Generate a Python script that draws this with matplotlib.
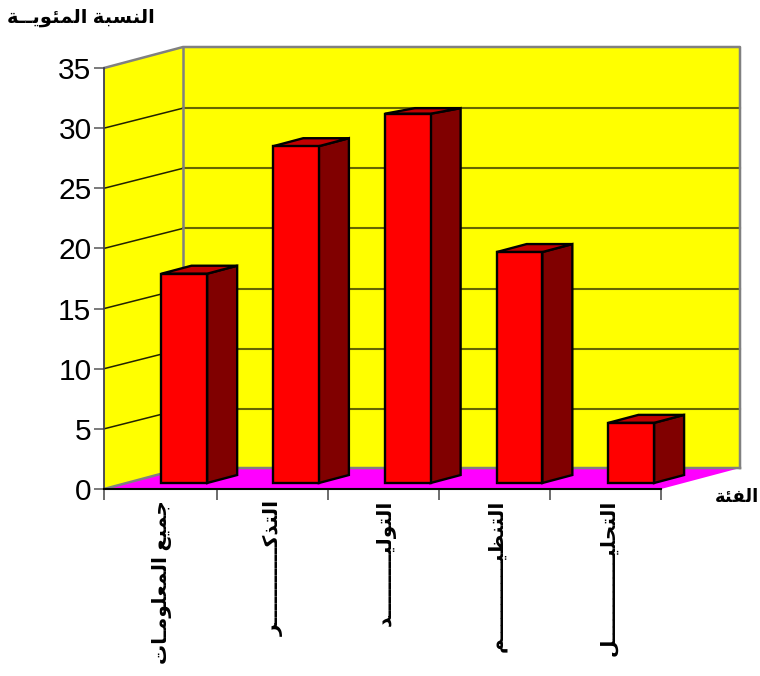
import matplotlib
matplotlib.use('Agg')
import matplotlib.pyplot as plt
from matplotlib.transforms import ScaledTranslation

KASHIDA = 'ـ'

# data
categories = ['جميع المعلومـات', 'التذك' + KASHIDA * 11 + 'ر', 'التولي' + KASHIDA * 9 + 'د',
              'التنظي' + KASHIDA * 11 + 'م', 'التحلي' + KASHIDA * 12 + 'ل']
values = [17.4, 28, 30.7, 19.2, 5]
y_ticks = [0, 5, 10, 15, 20, 25, 30, 35]
x_tick_pos = [0, 1.01, 2.01, 3.01, 4.0, 5]
y_title = 'النسبة المئويــة'
x_title = 'الفئة'

# presentation forms: isolated, final, initial, medial
forms = {
    'ا': (0xFE8D, 0xFE8E), 'ة': (0xFE93, 0xFE94), 'د': (0xFEA9, 0xFEAA),
    'ذ': (0xFEAB, 0xFEAC), 'ر': (0xFEAD, 0xFEAE), 'و': (0xFEED, 0xFEEE),
    'ب': (0xFE8F, 0xFE90, 0xFE91, 0xFE92), 'ت': (0xFE95, 0xFE96, 0xFE97, 0xFE98),
    'ج': (0xFE9D, 0xFE9E, 0xFE9F, 0xFEA0), 'ح': (0xFEA1, 0xFEA2, 0xFEA3, 0xFEA4),
    'س': (0xFEB1, 0xFEB2, 0xFEB3, 0xFEB4), 'ظ': (0xFEC5, 0xFEC6, 0xFEC7, 0xFEC8),
    'ع': (0xFEC9, 0xFECA, 0xFECB, 0xFECC), 'ف': (0xFED1, 0xFED2, 0xFED3, 0xFED4),
    'ك': (0xFED9, 0xFEDA, 0xFEDB, 0xFEDC), 'ل': (0xFEDD, 0xFEDE, 0xFEDF, 0xFEE0),
    'م': (0xFEE1, 0xFEE2, 0xFEE3, 0xFEE4), 'ن': (0xFEE5, 0xFEE6, 0xFEE7, 0xFEE8),
    'ي': (0xFEF1, 0xFEF2, 0xFEF3, 0xFEF4), 'ئ': (0xFE89, 0xFE8A, 0xFE8B, 0xFE8C),
}


# matplotlib has no arabic shaping, so pick the joined glyphs and reverse the order
def shape(text):
    out = []
    for i, ch in enumerate(text):
        if ch not in forms:
            out.append(ch)
            continue
        prev = text[i - 1] if i > 0 else ' '
        nxt = text[i + 1] if i + 1 < len(text) else ' '
        joins_prev = prev == KASHIDA or (prev in forms and len(forms[prev]) == 4)
        joins_next = (nxt == KASHIDA or nxt in forms) and len(forms[ch]) == 4
        f = forms[ch]
        if joins_prev and joins_next:
            out.append(chr(f[3]))
        elif joins_next:
            out.append(chr(f[2]))
        elif joins_prev:
            out.append(chr(f[1]))
        else:
            out.append(chr(f[0]))
    return ''.join(reversed(out))


plt.rcParams['font.family'] = ['Liberation Sans', 'DejaVu Sans']

fig = plt.figure(figsize=(7.6, 6.76), dpi=100)
ax = fig.add_axes([104 / 760, 1 - 489 / 676, 557 / 760, 421 / 676])
ax.set_xlim(0, 5)
ax.set_ylim(0, 35)

# depth of the box in data units
depth_x = 79 / 111.4
depth_y = 21 / 12.03
grid_dy = 20 / 12.03

# walls and floor
top = y_ticks[-1]
ax.fill([0, depth_x, depth_x, 0], [0, depth_y, top + depth_y, top], color='#ffff00', lw=0, zorder=1, clip_on=False)
ax.fill([depth_x, 5 + depth_x, 5 + depth_x, depth_x], [depth_y, depth_y, top + depth_y, top + depth_y],
        color='#ffff00', lw=0, zorder=1, clip_on=False)

# gridlines on both walls
for t in y_ticks[1:-1]:
    ax.plot([0, depth_x], [t, t + grid_dy], color='#222200', lw=1.1, zorder=2, clip_on=False)
    ax.plot([depth_x, 5 + depth_x], [t + grid_dy, t + grid_dy], color='#666600', lw=1.5, zorder=2, clip_on=False)

# wall outline
ax.plot([0, depth_x, 5 + depth_x, 5 + depth_x], [top, top + depth_y, top + depth_y, depth_y],
        color='#808080', lw=1.8, zorder=3, clip_on=False)
ax.plot([depth_x, depth_x], [depth_y, top + depth_y], color='#808080', lw=1.8, zorder=3, clip_on=False)
ax.fill([0, 5, 5 + depth_x, depth_x], [0, 0, depth_y, depth_y], color='#ff00ff', lw=0, zorder=2.6, clip_on=False)
ax.plot([0, depth_x, 5 + depth_x], [0, depth_y, depth_y], color='#808080', lw=1.8, zorder=2.7, clip_on=False)

# bars: front face plus side and top faces pushed back into the box
bar_left = 0.313
bar_w = 0.41
step = 1.003
front = 0.286
bar_depth = 0.38
sx = depth_x * bar_depth
sy = depth_y * bar_depth
ox = depth_x * front
oy = depth_y * front
back_limit = y_ticks[-2] + grid_dy  # the tallest bar's top stops at the 30 gridline
for i, v in enumerate(values):
    x0 = i * step + bar_left + ox
    x1 = x0 + bar_w
    back = min(oy + v + sy, back_limit)
    ax.fill([x1, x1 + sx, x1 + sx, x1], [oy, oy + sy, back, oy + v],
            facecolor='#800000', edgecolor='black', lw=1.7, zorder=5, clip_on=False)
    ax.fill([x0, x1, x1 + sx, x0 + sx], [oy + v, oy + v, back, back],
            facecolor='#c00000', edgecolor='black', lw=1.7, zorder=5, clip_on=False)
    ax.bar(x0, v, bar_w, bottom=oy, align='edge', color='#ff0000', edgecolor='black', lw=1.7, zorder=5, clip_on=False)

# axes
for s in ['top', 'right']:
    ax.spines[s].set_visible(False)
ax.spines['left'].set_color('#404050')
ax.spines['left'].set_linewidth(1.3)
ax.spines['bottom'].set_color('black')
ax.spines['bottom'].set_linewidth(1.5)
ax.spines['left'].set_zorder(6)
ax.spines['bottom'].set_zorder(6)
ax.patch.set_visible(False)

ax.set_yticks(y_ticks)
ax.set_yticklabels([str(t) for t in y_ticks])
ax.tick_params(axis='y', length=7, width=1.3, color='#707070', labelsize=21.5, pad=2)
ax.set_xticks(x_tick_pos)
ax.set_xticklabels([])
ax.tick_params(axis='x', which='major', length=8, width=1.3, color='#606060')
ax.set_xticks([i + 0.5 for i in range(5)], minor=True)
ax.set_xticklabels([shape(c) for c in categories], minor=True, rotation=90, fontsize=14.5, fontweight='bold',
                   va='top', ha='center')
ax.tick_params(axis='x', which='minor', length=0, pad=8)

# nudge the category labels a little to the right of the tick centres
nudge = ScaledTranslation(2 / 72, 0, fig.dpi_scale_trans)
for lab in ax.get_xticklabels(minor=True):
    lab.set_transform(lab.get_transform() + nudge)

fig.text(81 / 760, 1 - 18 / 676, shape(y_title), fontsize=14, fontweight='bold', ha='center', va='center')
fig.text(737 / 760, 1 - 497 / 676, shape(x_title), fontsize=13, fontweight='bold', ha='center', va='center')

fig.savefig('out.png', dpi=100)
